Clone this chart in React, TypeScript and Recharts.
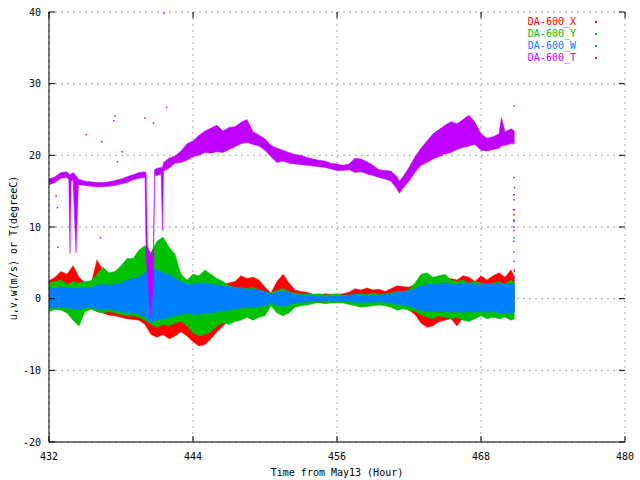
import { ComposedChart, Area, Scatter, XAxis, YAxis, CartesianGrid } from "recharts";

// sampling grid for the wind components (hours from May13)
const HOURS = [
  432.0, 432.5, 433.0, 433.5, 434.0, 434.5, 435.0, 435.5, 436.0, 436.5,
  437.0, 437.5, 438.0, 438.5, 439.0, 439.5, 440.0, 440.5, 441.0, 441.5,
  442.0, 442.5, 443.0, 443.5, 444.0, 444.5, 445.0, 445.5, 446.0, 446.5,
  447.0, 447.5, 448.0, 448.5, 449.0, 449.5, 450.0, 450.5, 451.0, 451.5,
  452.0, 452.5, 453.0, 453.5, 454.0, 454.5, 455.0, 455.5, 456.0, 456.5,
  457.0, 457.5, 458.0, 458.5, 459.0, 459.5, 460.0, 460.5, 461.0, 461.5,
  462.0, 462.5, 463.0, 463.5, 464.0, 464.5, 465.0, 465.5, 466.0, 466.5,
  467.0, 467.5, 468.0, 468.5, 469.0, 469.5, 470.0, 470.5, 470.8,
];

// DA-600_X envelope (m/s)
const X_LO = [
  -1.0, -1.0, -1.1, -0.9, -1.2, -1.0, -1.0, -1.2, -1.8, -2.0,
  -2.3, -2.4, -2.6, -2.8, -2.9, -3.0, -3.6, -5.0, -5.4, -5.0,
  -5.6, -5.2, -4.6, -5.2, -6.0, -6.6, -6.4, -5.6, -4.6, -3.8,
  -3.0, -2.4, -2.2, -2.0, -1.8, -1.6, -1.2, -0.8, -1.0, -1.2,
  -1.0, -0.8, -0.6, -0.6, -0.5, -0.6, -0.6, -0.5, -0.5, -0.4,
  -0.5, -0.7, -0.6, -0.7, -0.6, -0.6, -0.7, -0.8, -1.0, -1.2,
  -1.6, -2.2, -3.4, -4.0, -3.8, -3.2, -3.0, -2.8, -3.8, -2.6,
  -2.2, -2.0, -1.8, -2.0, -1.6, -1.8, -1.8, -1.6, -1.8,
];
const X_HI = [
  2.5, 3.0, 3.8, 3.4, 4.6, 3.0, 2.2, 2.0, 5.4, 4.0,
  3.0, 2.6, 2.8, 3.0, 3.2, 3.4, 3.6, 4.0, 4.2, 4.0,
  4.0, 3.6, 3.0, 2.4, 2.2, 2.4, 2.4, 2.2, 2.4, 2.0,
  2.2, 2.4, 3.2, 2.8, 3.0, 2.6, 1.6, 0.8, 2.4, 3.4,
  2.2, 1.2, 1.0, 0.9, 0.6, 0.5, 0.7, 0.6, 0.6, 0.7,
  0.9, 1.4, 1.2, 1.5, 1.2, 1.3, 1.0, 1.4, 1.8, 1.7,
  1.6, 2.0, 2.0, 2.2, 2.0, 2.4, 2.6, 2.8, 2.6, 3.2,
  3.0, 2.4, 3.2, 2.6, 3.2, 3.6, 3.0, 4.0, 3.0,
];

// DA-600_Y envelope (m/s)
const Y_LO = [
  -1.8, -1.5, -1.6, -2.0, -3.0, -3.8, -1.8, -1.5, -1.8, -2.0,
  -1.8, -2.0, -2.2, -2.4, -2.4, -2.6, -3.0, -3.6, -4.0, -3.6,
  -3.8, -3.4, -3.2, -3.8, -4.8, -5.2, -5.0, -4.6, -3.8, -3.4,
  -3.6, -3.2, -3.0, -2.6, -3.0, -2.6, -2.4, -1.0, -2.0, -2.4,
  -2.0, -1.2, -1.0, -0.9, -0.7, -0.5, -0.7, -0.6, -0.6, -0.6,
  -0.8, -1.0, -1.2, -1.1, -1.0, -0.9, -1.0, -1.2, -1.6, -1.4,
  -1.6, -1.8, -2.2, -2.6, -2.8, -2.4, -2.6, -2.8, -2.6, -3.0,
  -3.2, -2.8, -2.4, -2.8, -2.6, -2.8, -2.6, -3.0, -2.8,
];
const Y_HI = [
  2.2, 2.4, 2.6, 2.0, 2.4, 2.2, 2.4, 2.5, 3.4, 4.4,
  3.6, 3.8, 4.6, 5.6, 5.6, 6.8, 7.4, 6.4, 8.0, 8.6,
  7.2, 6.2, 3.4, 2.6, 3.4, 3.2, 4.0, 3.4, 2.8, 2.4,
  1.8, 1.6, 1.5, 1.4, 1.6, 1.2, 1.0, 0.8, 1.2, 1.4,
  1.0, 0.8, 0.6, 0.7, 0.6, 0.7, 0.5, 0.6, 0.7, 0.5,
  0.5, 0.6, 0.7, 0.6, 0.8, 0.6, 0.7, 0.8, 1.0, 1.0,
  1.2, 2.2, 3.4, 3.6, 3.0, 3.2, 3.4, 2.6, 2.4, 2.6,
  2.2, 2.4, 2.2, 2.0, 2.2, 2.4, 2.0, 2.6, 2.2,
];

// DA-600_W envelope (m/s)
const W_LO = [
  -1.2, -1.3, -1.2, -1.3, -1.4, -1.5, -1.3, -1.2, -1.5, -1.6,
  -1.5, -1.6, -1.8, -2.0, -2.0, -2.2, -2.6, -3.4, -3.0, -2.8,
  -2.6, -2.4, -2.2, -2.0, -2.2, -2.2, -2.0, -2.0, -1.8, -1.7,
  -1.6, -1.4, -1.3, -1.2, -1.2, -1.1, -1.0, -0.6, -1.0, -1.1,
  -0.9, -0.6, -0.5, -0.5, -0.4, -0.4, -0.4, -0.4, -0.4, -0.4,
  -0.4, -0.5, -0.5, -0.5, -0.5, -0.4, -0.5, -0.6, -0.8, -0.9,
  -1.0, -1.4, -1.6, -1.8, -1.8, -1.8, -1.8, -1.9, -1.8, -1.9,
  -1.8, -1.9, -1.8, -1.9, -1.8, -2.0, -2.0, -2.0, -1.9,
];
const W_HI = [
  1.4, 1.5, 1.6, 1.5, 1.6, 1.4, 1.6, 1.5, 1.9, 2.0,
  1.9, 2.0, 2.2, 2.6, 2.8, 3.0, 3.6, 4.4, 4.0, 3.6,
  3.4, 2.8, 2.4, 2.0, 2.0, 2.2, 2.2, 2.0, 1.9, 1.8,
  1.7, 1.5, 1.5, 1.3, 1.4, 1.2, 1.0, 0.6, 1.0, 1.1,
  0.9, 0.6, 0.5, 0.5, 0.4, 0.3, 0.3, 0.3, 0.3, 0.4,
  0.5, 0.6, 0.5, 0.5, 0.5, 0.5, 0.6, 0.6, 0.9, 1.0,
  1.1, 1.4, 1.8, 2.0, 2.0, 2.0, 2.2, 2.0, 2.0, 2.2,
  2.1, 2.0, 2.0, 2.1, 2.0, 2.2, 2.0, 2.1, 2.0,
];

// DA-600_T envelope (degC), finer where the sensor drops out
const T_HOURS = [
  432.0, 432.5, 433.0, 433.5, 433.65, 433.75, 433.85, 434.0, 434.25, 434.45,
  435.0, 435.5, 436.0, 436.5, 437.0, 437.5, 438.0, 438.5, 439.0, 439.5,
  440.0, 440.1, 440.2, 440.45, 440.7, 440.8, 441.0, 441.35, 441.45, 441.55,
  442.0, 442.5, 443.0, 443.5, 444.0, 444.5, 445.0, 445.5, 446.0, 446.5,
  447.0, 447.5, 448.0, 448.5, 449.0, 449.5, 450.0, 450.5, 451.0, 451.5,
  452.0, 452.5, 453.0, 453.5, 454.0, 454.5, 455.0, 455.5, 456.0, 456.5,
  457.0, 457.5, 458.0, 458.5, 459.0, 459.5, 460.0, 460.5, 461.0, 461.2,
  461.5, 462.0, 462.5, 463.0, 463.5, 464.0, 464.5, 465.0, 465.5, 466.0,
  466.5, 467.0, 467.5, 468.0, 468.5, 469.0, 469.5, 469.7, 470.0, 470.5,
  470.8,
];
const T_LO = [
  15.9, 16.2, 16.8, 16.9, 16.6, 6.3, 16.4, 16.6, 6.4, 15.9,
  15.8, 15.7, 15.6, 15.6, 15.7, 15.8, 16.0, 16.2, 16.6, 16.8,
  16.9, 5.4, 3.5, -2.5, 2.0, 17.2, 17.2, 17.4, 9.5, 17.8,
  18.2, 18.9, 19.0, 19.3, 19.8, 20.0, 20.4, 20.3, 20.5, 20.4,
  20.8, 21.2, 21.6, 21.8, 21.5, 21.3, 20.7, 19.8, 19.0, 19.2,
  18.9, 18.8, 18.7, 18.6, 18.5, 18.4, 18.3, 18.1, 17.9, 17.9,
  18.0, 17.6, 17.7, 17.4, 17.2, 16.9, 16.7, 16.4, 15.3, 14.7,
  15.4, 16.4, 17.6, 18.6, 19.0, 19.5, 19.8, 20.2, 20.4, 20.8,
  21.1, 21.3, 21.5, 20.7, 20.6, 20.8, 21.0, 21.3, 21.4, 21.6,
  21.6,
];
const T_HI = [
  16.7, 17.0, 17.6, 17.7, 17.4, 17.3, 17.4, 17.6, 17.2, 16.7,
  16.4, 16.3, 16.2, 16.2, 16.3, 16.5, 16.7, 17.0, 17.3, 17.6,
  17.7, 17.5, 7.5, 6.0, 7.0, 18.0, 18.2, 18.3, 18.3, 19.0,
  19.6, 19.9, 20.6, 21.6, 22.0, 22.8, 23.4, 23.8, 24.2, 23.4,
  23.9, 24.0, 24.6, 25.0, 23.3, 22.8, 22.3, 21.4, 21.0, 20.7,
  20.4, 20.1, 20.0, 19.7, 19.5, 19.3, 19.2, 18.9, 18.8, 18.6,
  18.8, 19.6, 19.5, 19.1, 18.6, 18.0, 17.9, 17.8, 17.0, 16.4,
  17.0, 18.3, 19.8, 21.0, 22.0, 23.0, 23.6, 24.2, 24.7, 24.4,
  25.0, 25.6, 24.6, 23.0, 22.4, 22.6, 23.0, 25.3, 23.3, 23.7,
  23.4,
];

// isolated samples outside the main traces
const T_OUT_H = [432.6, 432.7, 432.75, 435.1, 436.3, 436.4, 437.4, 437.5, 437.7, 438.1, 440.0, 440.7, 441.6, 441.8,
  470.75, 470.75, 470.8, 470.75, 470.75, 470.75, 470.75, 470.75, 470.75, 470.75, 470.75, 470.75, 470.75];
const T_OUT_V = [14.3, 12.7, 7.2, 22.9, 8.5, 21.9, 24.8, 25.5, 19.1, 20.5, 25.2, 24.5, 39.8, 26.7,
  26.9, 16.9, 15.5, 14.5, 13.8, 12.4, 11.0, 9.5, 8.0, 6.5, 5.2, 4.0, 3.0];
const X_OUT_H = [470.75, 470.75, 470.75, 470.75, 470.8];
const X_OUT_V = [12.4, 11.7, 10.8, 10.0, 3.8];
const Y_OUT_H = [470.75, 470.75, 470.75];
const Y_OUT_V = [14.5, 10.8, 8.5];

const X_TICKS = [432, 444, 456, 468, 480];
const Y_TICKS = [-20, -10, 0, 10, 20, 30, 40];

const SERIES = [
  { key: "x", name: "DA-600_X", color: "#ff0000" },
  { key: "y", name: "DA-600_Y", color: "#00c000" },
  { key: "w", name: "DA-600_W", color: "#0080ff" },
  { key: "temp", name: "DA-600_T", color: "#c000ff" },
];

const FONT = "'DejaVu Sans Mono', monospace";
const PLOT_LEFT = 49;
const PLOT_RIGHT = 625;
const PLOT_TOP = 12;
const PLOT_BOTTOM = 442;

type Row = { t: number; x?: number[]; y?: number[]; w?: number[]; temp?: number[] };

const rows: Row[] = [
  ...HOURS.map((t, i) => ({
    t,
    x: [X_LO[i], X_HI[i]],
    y: [Y_LO[i], Y_HI[i]],
    w: [W_LO[i], W_HI[i]],
  })),
  ...T_HOURS.map((t, i) => ({ t, temp: [T_LO[i], T_HI[i]] })),
].sort((a, b) => a.t - b.t);

const toPoints = (h: number[], v: number[]) => h.map((t, i) => ({ t, v: v[i] }));

const Dot = (props: any) => {
  const { cx, cy, fill } = props;
  if (cx == null || cy == null) return null;
  return <rect x={cx - 0.75} y={cy - 0.75} width={1.5} height={1.5} fill={fill} />;
};

const XTick = (props: any) => {
  const { x, payload } = props;
  return (
    <g>
      <line x1={x} x2={x} y1={PLOT_BOTTOM} y2={PLOT_BOTTOM - 6} stroke="#000" />
      <line x1={x} x2={x} y1={PLOT_TOP} y2={PLOT_TOP + 6} stroke="#000" />
      <text x={x} y={PLOT_BOTTOM + 18} textAnchor="middle" fontFamily={FONT} fontSize={10} fill="#000">
        {payload.value}
      </text>
    </g>
  );
};

const YTick = (props: any) => {
  const { y, payload } = props;
  return (
    <g>
      <line x1={PLOT_LEFT} x2={PLOT_LEFT + 6} y1={y} y2={y} stroke="#000" />
      <line x1={PLOT_RIGHT - 6} x2={PLOT_RIGHT} y1={y} y2={y} stroke="#000" />
      <text x={PLOT_LEFT - 8} y={y + 3.5} textAnchor="end" fontFamily={FONT} fontSize={10} fill="#000">
        {payload.value}
      </text>
    </g>
  );
};

const XLabel = () => (
  <text x={337} y={476} textAnchor="middle" fontFamily={FONT} fontSize={10} fill="#000">
    Time from May13 (Hour)
  </text>
);

const YLabel = () => (
  <text transform="translate(17,248) rotate(-90)" textAnchor="middle" fontFamily={FONT} fontSize={10} fill="#000">
    u,v,w(m/s) or T(degreeC)
  </text>
);

export default function App() {
  return (
    <div style={{ position: "absolute", left: 0, top: 0, width: 640, height: 480, background: "#fff" }}>
      <ComposedChart
        width={640}
        height={480}
        data={rows}
        margin={{ top: PLOT_TOP, right: 640 - PLOT_RIGHT, bottom: 0, left: 0 }}
      >
        <CartesianGrid stroke="#a0a0a0" strokeDasharray="2 4" />
        <XAxis
          dataKey="t"
          type="number"
          domain={[432, 480]}
          ticks={X_TICKS}
          allowDataOverflow
          height={480 - PLOT_BOTTOM}
          axisLine={{ stroke: "#000" }}
          tickLine={false}
          tick={<XTick />}
          label={<XLabel />}
        />
        <XAxis xAxisId="top" orientation="top" type="number" domain={[432, 480]} height={0} tick={false} tickLine={false} axisLine={{ stroke: "#000" }} />
        <YAxis
          type="number"
          domain={[-20, 40]}
          ticks={Y_TICKS}
          allowDataOverflow
          width={PLOT_LEFT}
          axisLine={{ stroke: "#000" }}
          tickLine={false}
          tick={<YTick />}
          label={<YLabel />}
        />
        <YAxis yAxisId="right" orientation="right" domain={[-20, 40]} width={0} tick={false} tickLine={false} axisLine={{ stroke: "#000" }} />
        {SERIES.map((s) => (
          <Area
            key={s.key}
            name={s.name}
            type="linear"
            dataKey={(d: Row) => (d as any)[s.key] ?? [null, null]}
            stroke={s.color}
            strokeWidth={0.5}
            fill={s.color}
            fillOpacity={1}
            connectNulls
            dot={false}
            activeDot={false}
            isAnimationActive={false}
          />
        ))}
        <Scatter data={toPoints(X_OUT_H, X_OUT_V)} dataKey="v" fill="#ff0000" shape={<Dot />} legendType="none" isAnimationActive={false} />
        <Scatter data={toPoints(Y_OUT_H, Y_OUT_V)} dataKey="v" fill="#00c000" shape={<Dot />} legendType="none" isAnimationActive={false} />
        <Scatter data={toPoints(T_OUT_H, T_OUT_V)} dataKey="v" fill="#c000ff" shape={<Dot />} legendType="none" isAnimationActive={false} />
      </ComposedChart>
      <div style={{ position: "absolute", left: 500, top: 16, width: 110, fontFamily: FONT, fontSize: 10 }}>
        {SERIES.map((s) => (
          <div key={s.key} style={{ display: "flex", alignItems: "center", height: 12, lineHeight: "12px" }}>
            <span style={{ width: 76, textAlign: "right", color: s.color }}>{s.name}</span>
            <span style={{ marginLeft: 19, width: 2, height: 2, background: s.color }} />
          </div>
        ))}
      </div>
    </div>
  );
}
